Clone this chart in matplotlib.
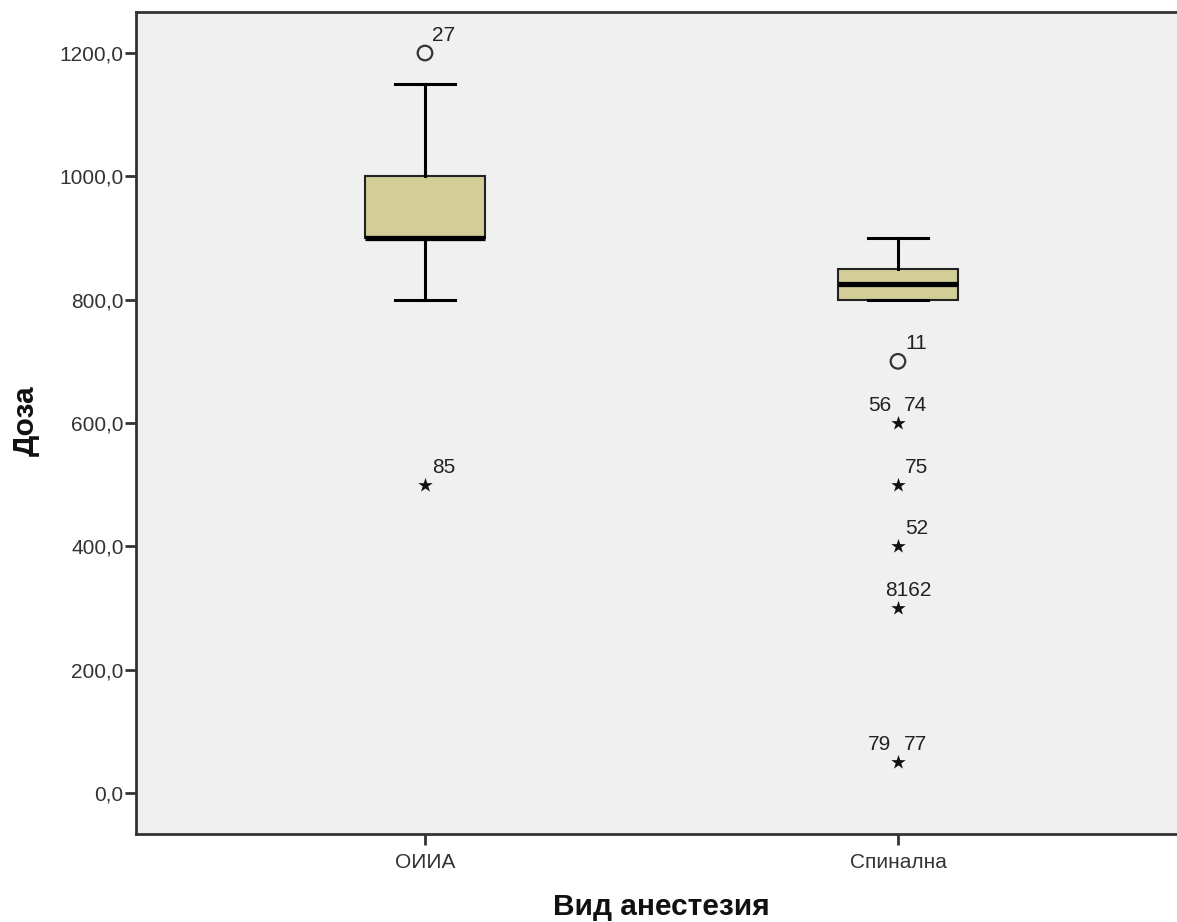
import matplotlib
matplotlib.use("Agg")
import matplotlib.pyplot as plt

# data
groups = ['ОИИА', 'Спинална']
q1 = [900, 800]
median = [900, 825]
q3 = [1000, 850]
whis_lo = [800, 800]
whis_hi = [1150, 900]

# outliers (circle = mild, star = extreme) with case labels
mild_x = [0, 1]
mild_y = [1200, 700]
mild_lab = [['27'], ['11']]
ext_x = [0, 1, 1, 1, 1, 1]
ext_y = [500, 600, 500, 400, 300, 50]
ext_lab = [['85'], ['56', '74'], ['75'], ['52'], ['81', '62'], ['79', '77']]

yticks = [0, 200, 400, 600, 800, 1000, 1200]

plt.rcParams['font.family'] = ['Liberation Sans', 'DejaVu Sans']

fig = plt.figure(figsize=(11.77, 9.22), dpi=100)
ax = fig.add_axes([136/1177, 88/922, 1 - 136/1177, 822/922])
ax.set_facecolor('#f0f0f0')

stats = []
for i in range(len(groups)):
    stats.append(dict(med=median[i], q1=q1[i], q3=q3[i],
                      whislo=whis_lo[i], whishi=whis_hi[i], fliers=[]))
ax.bxp(stats, positions=[0, 1], widths=0.254, showfliers=False,
       patch_artist=True,
       boxprops=dict(facecolor='#d3ce97', edgecolor='#222222', linewidth=1.5),
       medianprops=dict(color='black', linewidth=3.8, solid_capstyle='butt'),
       whiskerprops=dict(color='black', linewidth=2.2),
       capprops=dict(color='black', linewidth=2.2),
       capwidths=0.125, zorder=3)

ax.scatter(mild_x, mild_y, s=110, marker='o', facecolors='none',
           edgecolors='#333333', linewidths=1.6, zorder=4)
ax.scatter(ext_x, ext_y, s=120, marker='*', color='#111111',
           linewidths=0, zorder=4)

lab_kw = dict(textcoords='offset pixels', va='baseline', fontsize=15, color='#222222')


def put_labels(xs, ys, labs):
    for x, y, lab in zip(xs, ys, labs):
        if len(lab) == 1:
            ax.annotate(lab[0], (x, y), xytext=(7, 12), ha='left', **lab_kw)
        elif lab[0] == '81':
            ax.annotate(lab[0] + lab[1], (x, y), xytext=(-13, 12), ha='left', **lab_kw)
        else:
            ax.annotate(lab[0], (x, y), xytext=(-7, 12), ha='right', **lab_kw)
            ax.annotate(lab[1], (x, y), xytext=(6, 12), ha='left', **lab_kw)


put_labels(mild_x, mild_y, mild_lab)
put_labels(ext_x, ext_y, ext_lab)

ax.set_xlim(-0.611, 1.590)
ax.set_ylim(-66.5, 1266.5)
ax.set_yticks(yticks)
ax.set_yticklabels([f"{v:.1f}".replace('.', ',') for v in yticks])
ax.set_xticks([0, 1])
ax.set_xticklabels(groups)
ax.tick_params(axis='both', labelsize=15, colors='#333333', length=8, width=2)
ax.tick_params(axis='y', pad=1)
ax.tick_params(axis='x', pad=6, length=8)

for side in ['left', 'bottom', 'top']:
    ax.spines[side].set_linewidth(2)
    ax.spines[side].set_color('#333333')
ax.spines['right'].set_visible(False)

fig.text(26/1177, 1 - 421/922, 'Доза', rotation=90, ha='center', va='center',
         fontsize=21.5, fontweight='bold', color='#111111')
fig.text(661/1177, 1 - 907/922, 'Вид анестезия', ha='center', va='center',
         fontsize=21.5, fontweight='bold', color='#111111')

fig.savefig('out.png', dpi=100)
